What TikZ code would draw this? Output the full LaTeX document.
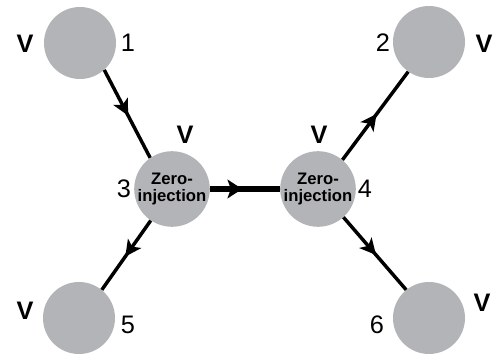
\documentclass[tikz,border=0pt]{standalone}
\usepackage{fontspec}
\setmainfont{Liberation Sans}
\usepackage{tikz}
\usetikzlibrary{arrows.meta, decorations.markings}
\definecolor{busgray}{RGB}{179,180,183}
\tikzstyle{bus} = [circle, fill=busgray, minimum size=54pt, inner sep=0pt, align=center, font=\fontsize{12.5}{13}\selectfont\bfseries]
\tikzstyle{vlabel} = [inner sep=0pt, font=\fontsize{19}{19}\selectfont\bfseries]
\tikzstyle{numlabel} = [inner sep=0pt, font=\fontsize{19}{19}\selectfont]
\tikzstyle{flow} = [line width=2.6pt, postaction={decorate}, decoration={markings, mark=at position 0.52 with {\arrow{Stealth[length=12pt, width=12pt, inset=3pt]}}}]
\tikzstyle{mainflow} = [line width=4.2pt, postaction={decorate}, decoration={markings, mark=at position 0.46 with {\arrow{Stealth[length=11pt, width=14pt, inset=2.5pt]}}}]

\begin{document}
\begin{tikzpicture}[x=0.75pt, y=-0.75pt]
    \useasboundingbox (0,0) rectangle (494,356);
    % buses
    \node[bus] (n1) at (80,43) {};
    \node[bus] (n2) at (429,42) {};
    \node[bus] (n3) at (172,189) {Zero-\\injection};
    \node[bus] (n4) at (318,189) {Zero-\\injection};
    \node[bus] (n5) at (79,318) {};
    \node[bus] (n6) at (429,318) {};
    % bus numbers
    \node[numlabel] (l1) at (128,43) {1};
    \node[numlabel] (l2) at (383,43) {2};
    \node[numlabel] (l3) at (124,189) {3};
    \node[numlabel] (l4) at (365,189) {4};
    \node[numlabel] (l5) at (128,325) {5};
    \node[numlabel] (l6) at (377,325) {6};
    % voltage measurements
    \node[vlabel] (v1) at (25,44) {V};
    \node[vlabel] (v2) at (484,44) {V};
    \node[vlabel] (v3) at (185,135) {V};
    \node[vlabel] (v4) at (319,135) {V};
    \node[vlabel] (v5) at (25,311) {V};
    \node[vlabel] (v6) at (482,303) {V};
    % branch flows
    \draw[flow] (n1.-48) -- (n3.125);
    \draw[flow] (n4.50) -- (n2.-125);
    \draw[flow] (n3.-124) -- (n5.51);
    \draw[flow] (n4.-48) -- (n6.129);
    \draw[mainflow] (n3) -- (n4);
\end{tikzpicture}
\end{document}
